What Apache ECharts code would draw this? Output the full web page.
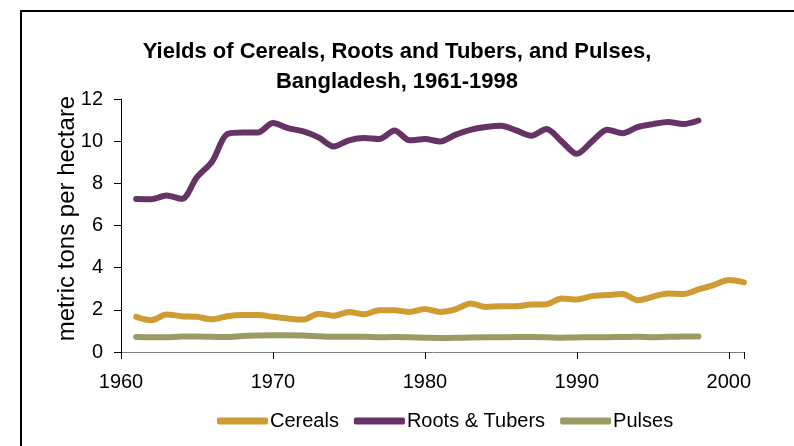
<!DOCTYPE html>
<html><head><meta charset="utf-8">
<script src="https://cdn.jsdelivr.net/npm/echarts@6/dist/echarts.min.js"></script>
<style>html,body{margin:0;padding:0;background:#fff}#c{width:794px;height:446px}</style>
</head><body><div id="c"></div>
<script>
const yearsLong = [1961,1962,1963,1964,1965,1966,1967,1968,1969,1970,1971,1972,1973,1974,1975,1976,1977,1978,1979,1980,1981,1982,1983,1984,1985,1986,1987,1988,1989,1990,1991,1992,1993,1994,1995,1996,1997,1998,1999,2000,2001];
const yearsShort = yearsLong.slice(0, 38);
const cereals = [1.67,1.51,1.78,1.70,1.67,1.55,1.70,1.75,1.75,1.67,1.59,1.54,1.82,1.72,1.90,1.79,1.98,1.98,1.90,2.04,1.90,2.02,2.30,2.14,2.17,2.17,2.25,2.27,2.54,2.49,2.65,2.70,2.75,2.46,2.62,2.78,2.75,2.97,3.17,3.41,3.30];
const roots = [7.26,7.25,7.42,7.26,8.29,9.04,10.34,10.41,10.41,10.86,10.62,10.46,10.18,9.75,10.04,10.15,10.10,10.51,10.04,10.10,9.99,10.30,10.54,10.67,10.73,10.51,10.26,10.58,9.99,9.40,9.99,10.54,10.38,10.67,10.81,10.91,10.81,10.98];
const pulses = [0.71,0.70,0.70,0.73,0.73,0.72,0.71,0.76,0.78,0.79,0.79,0.78,0.75,0.72,0.72,0.72,0.70,0.71,0.70,0.68,0.66,0.67,0.69,0.70,0.70,0.71,0.71,0.70,0.68,0.69,0.70,0.70,0.71,0.72,0.70,0.72,0.74,0.74];
const seriesNames = ['Cereals','Roots & Tubers','Pulses'];
const xTicks = [1960,1970,1980,1990,2000];
const yTicks = [0,2,4,6,8,10,12];

const pairs = (xs, ys) => ys.map((v,i)=>[xs[i], v]);
const colors = ['#CF9B33','#663366','#9C9B63'];
const font = '"Liberation Sans", Arial, sans-serif';

const chart = echarts.init(document.getElementById('c'), null, {renderer:'canvas'});
const mk = (name, data, color) => ({
  name, type:'line', data, smooth:0.3, symbol:'none',
  lineStyle:{color, width:6, cap:'round', join:'round'}, itemStyle:{color}
});
chart.setOption({
  animation:false,
  backgroundColor:'#fff',
  title:{
    text:'Yields of Cereals, Roots and Tubers, and Pulses,\nBangladesh, 1961-1998',
    left:'center', top:32,
    textStyle:{fontFamily:font, fontWeight:'bold', fontSize:22, color:'#000', lineHeight:30}
  },
  legend:{
    bottom:10, left:212,
    itemWidth:51, itemHeight:7, itemGap:15,
    icon:'roundRect',
    textStyle:{fontFamily:font, fontSize:20, color:'#000', padding:[0,0,0,-3]},
    data:seriesNames
  },
  graphic:[{
    type:'polyline', silent:true,
    shape:{points:[[21,446],[21,11],[794,11]]},
    style:{stroke:'#000', lineWidth:2, fill:null}
  }],
  grid:{left:121, right:50, top:99, bottom:94, containLabel:false},
  xAxis:{
    type:'value', min:1960, max:2001, interval:10,
    axisLine:{lineStyle:{color:'#808080', width:1}},
    axisTick:{length:7, lineStyle:{color:'#000'}},
    axisLabel:{fontFamily:font, fontSize:20, color:'#000', margin:20,
      formatter:v=>xTicks.includes(v)?String(v):''},
    splitLine:{show:false}
  },
  yAxis:{
    type:'value', min:0, max:12, interval:2,
    name:'metric tons per hectare', nameLocation:'middle', nameGap:42,
    nameMoveOverlap:false,
    nameTextStyle:{fontFamily:font, fontSize:24, color:'#000', padding:[0,0,0,14]},
    axisLine:{show:true, lineStyle:{color:'#000', width:1}},
    axisTick:{show:true, length:7, lineStyle:{color:'#000'}},
    axisLabel:{fontFamily:font, fontSize:20, color:'#000', margin:18,
      formatter:v=>yTicks.includes(v)?String(v):''},
    splitLine:{show:false}
  },
  series:[
    mk(seriesNames[0], pairs(yearsLong, cereals), colors[0]),
    mk(seriesNames[1], pairs(yearsShort, roots), colors[1]),
    mk(seriesNames[2], pairs(yearsShort, pulses), colors[2])
  ]
});
</script></body></html>
